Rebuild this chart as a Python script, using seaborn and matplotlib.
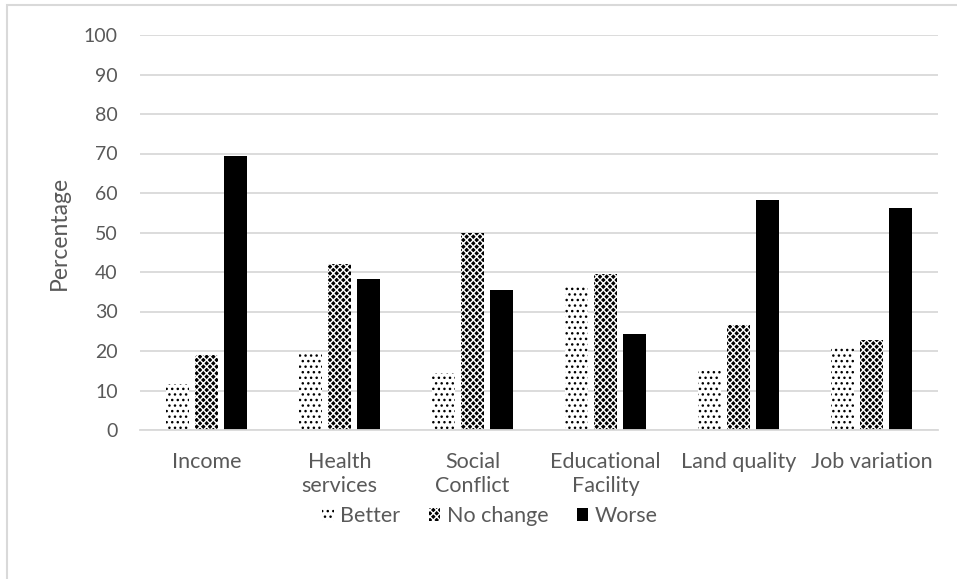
import pandas as pd
import matplotlib.pyplot as plt
import matplotlib.patches as mpatches
import seaborn as sns

# Data
categories = ["Income", "Health\nservices", "Social\nConflict",
              "Educational\nFacility", "Land quality", "Job variation"]
better = [11.6, 19.5, 14.4, 36.1, 15.2, 20.9]
no_change = [19.0, 42.1, 50.0, 39.4, 26.5, 22.9]
worse = [69.4, 38.3, 35.4, 24.3, 58.3, 56.3]
series = ["Better", "No change", "Worse"]

df = pd.DataFrame({
    "category": categories * 3,
    "status": [s for s in series for _ in categories],
    "value": better + no_change + worse,
})

sns.set_theme(style="white")
plt.rcParams["font.family"] = ["Lato", "DejaVu Sans"]
plt.rcParams["hatch.linewidth"] = 1.0

text_col = "#595959"
grid_col = "#d9d9d9"

fig = plt.figure(figsize=(9.57, 5.79), dpi=100)
ax = fig.add_axes([140 / 957, 1 - 430 / 579, (938 - 140) / 957, (430 - 35) / 579])

sns.barplot(data=df, x="category", y="value", hue="status", order=categories,
            hue_order=series, palette=["white", "black", "black"],
            width=0.655, gap=0.2, saturation=1, ax=ax, legend=False,
            linewidth=0)

# fill patterns: sparse dots, dense checker, solid
styles = {
    "Better": dict(facecolor="white", edgecolor="black", hatch="..."),
    "No change": dict(facecolor="black", edgecolor="white", hatch="xxxxx"),
    "Worse": dict(facecolor="black", edgecolor="black", hatch=None),
}
for cont, name in zip(ax.containers, series):
    for bar in cont:
        bar.set_facecolor(styles[name]["facecolor"])
        bar.set_edgecolor(styles[name]["edgecolor"])
        bar.set_hatch(styles[name]["hatch"])
        bar.set_linewidth(0)

ax.set_ylim(0, 100)
ax.set_yticks(range(0, 101, 10))
ax.set_xlim(-0.5, len(categories) - 0.5)
ax.yaxis.grid(True, color=grid_col, linewidth=1.3)
ax.set_axisbelow(True)
for side in ["left", "right", "top"]:
    ax.spines[side].set_visible(False)
ax.spines["bottom"].set_color(grid_col)
ax.spines["bottom"].set_linewidth(1.3)
ax.tick_params(axis="both", length=0, colors=text_col)
ax.tick_params(axis="y", pad=16, labelsize=14)
ax.tick_params(axis="x", pad=16, labelsize=15.5)
for lbl in ax.get_xticklabels():
    lbl.set_linespacing(1.25)
ax.set_xlabel("")
ax.set_ylabel("Percentage", fontsize=16.5, color=text_col, labelpad=10)

handles = [mpatches.Patch(linewidth=0, **styles[s]) for s in series]
fig.legend(handles, series, loc="center", bbox_to_anchor=(490 / 957, 1 - 516 / 579),
           ncol=3, frameon=False, fontsize=15.5, labelcolor=text_col,
           handlelength=0.55, handleheight=0.55, handletextpad=0.3, columnspacing=1.3)

# outer chart border (only left/top visible in the reference)
fig.patches.append(mpatches.Rectangle((6.5 / 957, -0.1), 1.2, 1.1 - 5 / 579,
                                      transform=fig.transFigure, fill=False,
                                      edgecolor=grid_col, linewidth=1.5))

fig.savefig("out.png", dpi=100)
